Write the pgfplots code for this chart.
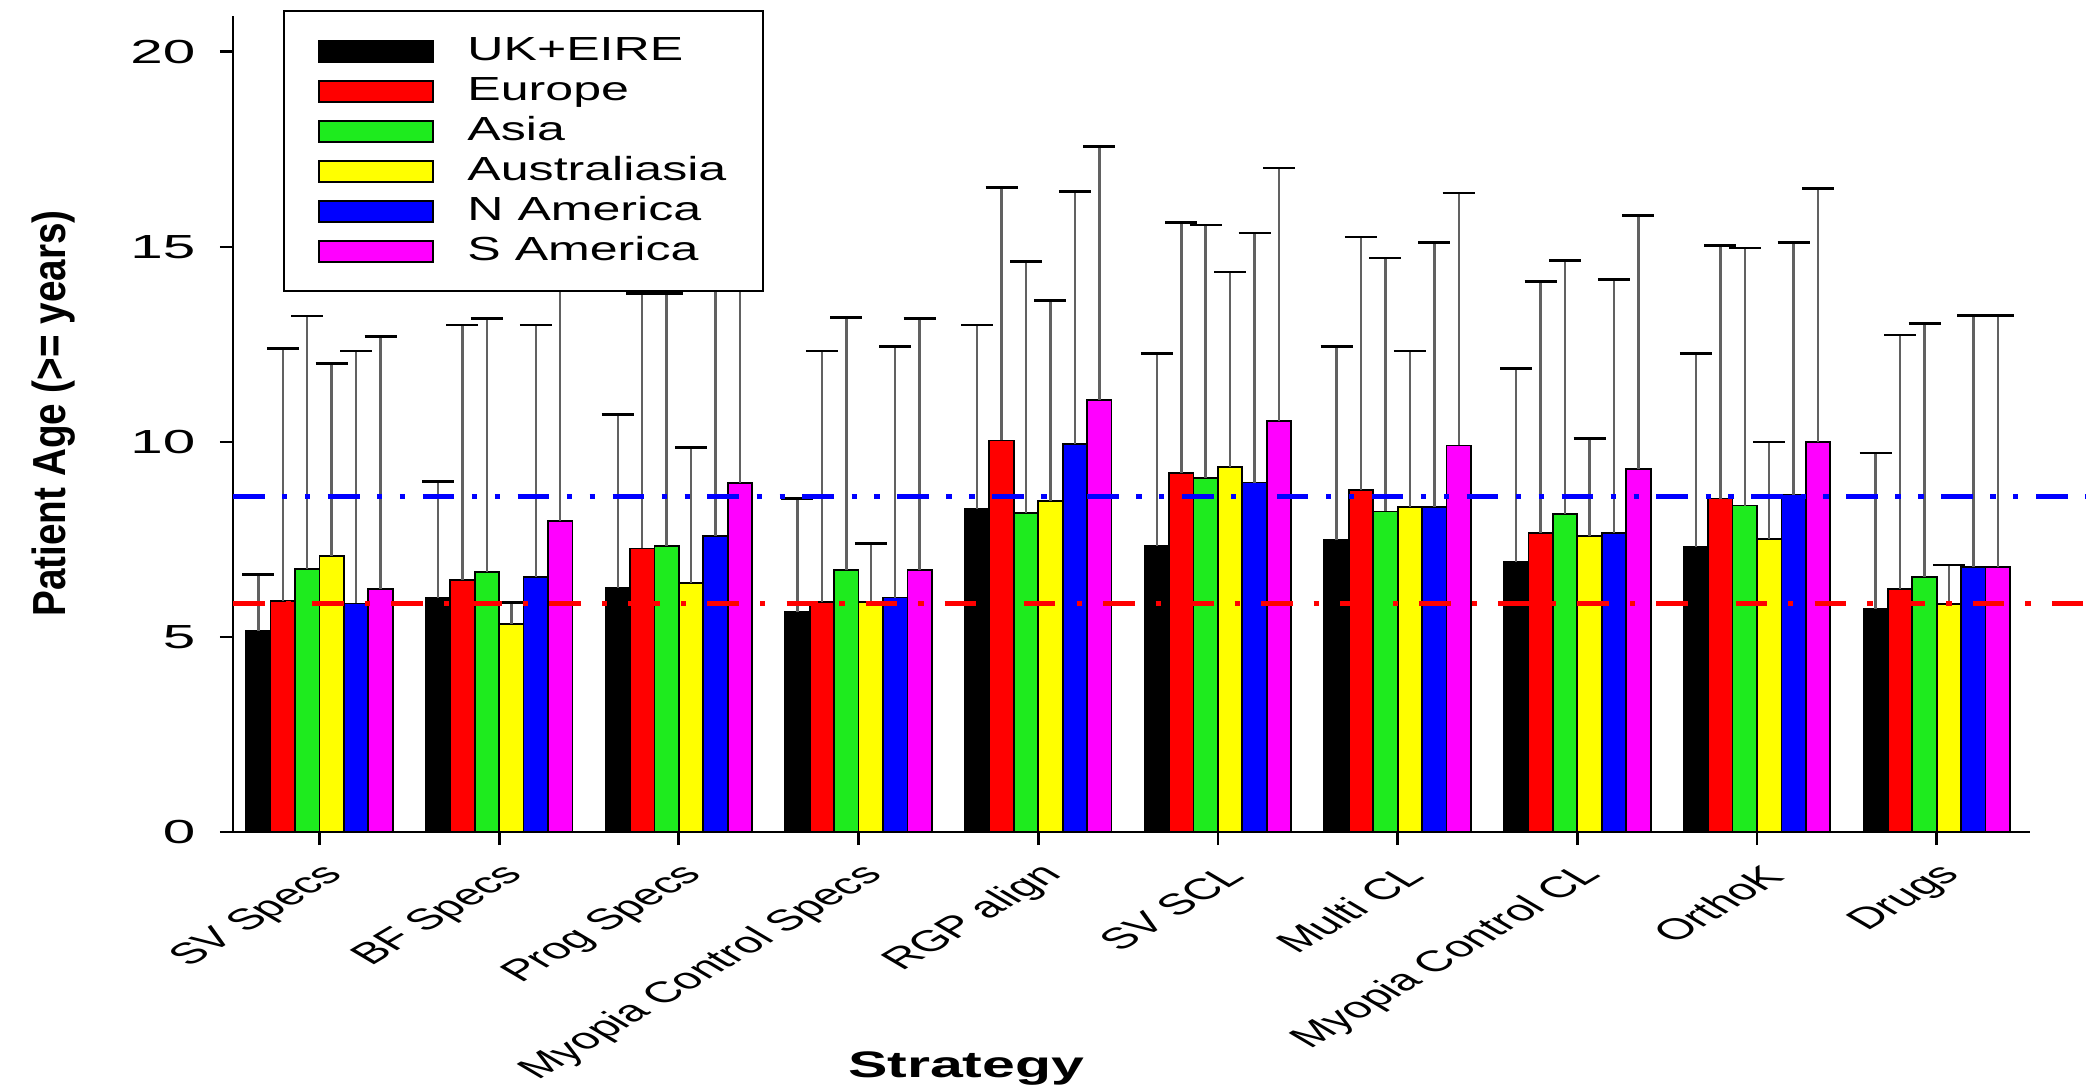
\documentclass[border=0pt]{standalone}
\usepackage{fontspec}
\setmainfont{Liberation Sans}
\usepackage{graphicx}
\usepackage{pgfplots}
\pgfplotsset{compat=1.18}
\usepackage{pgfplotstable}

\definecolor{cgreen}{HTML}{1EEB1E}
\definecolor{cyellow}{HTML}{FFFF00}
\definecolor{cblue}{HTML}{0000FF}
\definecolor{cmag}{HTML}{FF00FF}
\definecolor{cred}{HTML}{FF0000}

% columns: value and top of error bar
\pgfplotstableread{
x  uk   ukt   eu    eut   as   ast   au   aut   na   nat   sa    sat
0  5.15 6.60  5.92  12.39 6.75 13.23 7.08 12.01 5.86 12.33 6.24  12.71
1  5.99 8.98  6.47  13.00 6.67 13.16 5.33 5.89  6.54 13.00 7.98  14.50
2  6.26 10.71 7.27  13.80 7.33 13.80 6.39 9.85  7.59 14.50 8.95  15.00
3  5.64 8.55  5.89  12.33 6.71 13.19 5.89 7.39  6.01 12.45 6.71  13.17
4  8.28 13.00 10.04 16.53 8.18 14.63 8.49 13.62 9.94 16.42 11.08 17.58
5  7.33 12.27 9.20  15.62 9.08 15.56 9.35 14.36 8.96 15.36 10.53 17.02
6  7.48 12.45 8.77  15.25 8.22 14.72 8.34 12.33 8.34 15.12 9.91  16.38
7  6.93 11.88 7.67  14.11 8.16 14.66 7.58 10.09 7.67 14.16 9.30  15.80
8  7.30 12.27 8.55  15.03 8.37 14.97 7.51 10.00 8.65 15.12 10.00 16.49
9  5.73 9.72  6.23  12.74 6.54 13.03 5.85 6.85  6.79 13.25 6.79  13.25
}\data

\begin{document}
\begin{tikzpicture}
\useasboundingbox (-23.3mm,-25.8mm) rectangle (185.4mm,83.2mm);
\begin{axis}[
  at={(0,0)}, anchor=south west,
  scale only axis, width=179.7mm, height=81.6mm,
  xmin=-0.481, xmax=9.519, ymin=0, ymax=20.92,
  clip=false,
  axis x line*=bottom, axis y line*=left,
  axis line style={black, line width=0.8pt, -},
  ybar, bar width=0.136,
  xtick={0,...,9},
  xticklabels={SV Specs, BF Specs, Prog Specs, Myopia Control Specs, RGP align, SV SCL, Multi CL, Myopia Control CL, OrthoK, Drugs},
  ytick={0,5,10,15,20},
  tick align=outside, major tick length=1.3mm,
  tick style={black, line width=0.8pt},
  /pgf/number format/assume math mode=true,
  yticklabel style={font=\fontsize{9.5}{10}\selectfont, anchor=east, xshift=-0.3mm, xscale=1.75},
  xticklabel style={font=\fontsize{8.4}{10}\selectfont, anchor=east, xshift=3.1mm, yshift=-1.7mm, cm={1.195,0.7071,-1.195,0.7071,(0,0)}},
  ylabel={Patient Age (>= years)},
  xlabel={Strategy},
  every axis y label/.style={at={(axis description cs:-0.1,0.513)}, anchor=center, font=\bfseries\fontsize{11}{12}\selectfont, cm={0,1,-1.2,0,(0,0)}},
  every axis x label/.style={at={(axis description cs:0.408,-0.29)}, anchor=center, font=\bfseries\fontsize{10.5}{12}\selectfont, xscale=1.6},
  legend style={at={(axis description cs:0.028,1.007)}, anchor=north west, draw=black, line width=0.6pt, fill=white,
    font=\fontsize{9.5}{11}\selectfont, inner xsep=3.4mm, inner ysep=2.2mm, row sep=0.4mm, column sep=3mm,
    nodes={inner sep=0.3mm, text height=2.4mm, text depth=0.6mm}},
  legend cell align=left,
  legend image code/.code={\draw[#1, draw=black, line width=0.6pt] (0mm,-1.05mm) rectangle (11.4mm,1.05mm);},
  error bars/y dir=plus, error bars/y explicit,
  error bars/error bar style={draw=black!62, line width=0.7pt},
  error bars/error mark options={rotate=90, draw=black, line width=0.75pt, mark size=1.6mm},
]
\addplot[fill=black, draw=black, line width=0.5pt, bar shift=-0.34] table[x=x, y=uk, y error plus expr=\thisrow{ukt}-\thisrow{uk}] {\data};
\addlegendentry{\scalebox{1.5}[1]{UK+EIRE}}
\addplot[fill=cred, draw=black, line width=0.5pt, bar shift=-0.204] table[x=x, y=eu, y error plus expr=\thisrow{eut}-\thisrow{eu}] {\data};
\addlegendentry{\scalebox{1.5}[1]{Europe}}
\addplot[fill=cgreen, draw=black, line width=0.5pt, bar shift=-0.068] table[x=x, y=as, y error plus expr=\thisrow{ast}-\thisrow{as}] {\data};
\addlegendentry{\scalebox{1.5}[1]{Asia}}
\addplot[fill=cyellow, draw=black, line width=0.5pt, bar shift=0.068] table[x=x, y=au, y error plus expr=\thisrow{aut}-\thisrow{au}] {\data};
\addlegendentry{\scalebox{1.5}[1]{Australiasia}}
\addplot[fill=cblue, draw=black, line width=0.5pt, bar shift=0.204] table[x=x, y=na, y error plus expr=\thisrow{nat}-\thisrow{na}] {\data};
\addlegendentry{\scalebox{1.5}[1]{N America}}
\addplot[fill=cmag, draw=black, line width=0.5pt, bar shift=0.34] table[x=x, y=sa, y error plus expr=\thisrow{sat}-\thisrow{sa}] {\data};
\addlegendentry{\scalebox{1.5}[1]{S America}}
\addplot[sharp plot, forget plot, no markers, draw=cblue, line width=1.3pt, dash pattern=on 9pt off 5pt on 1.5pt off 5pt on 1.5pt off 5pt] coordinates {(-0.481,8.6) (9.83,8.6)};
\addplot[sharp plot, forget plot, no markers, draw=cred, line width=1.4pt, dash pattern=on 9pt off 6pt on 1.5pt off 6pt] coordinates {(-0.481,5.85) (9.83,5.85)};
\end{axis}
\end{tikzpicture}
\end{document}
